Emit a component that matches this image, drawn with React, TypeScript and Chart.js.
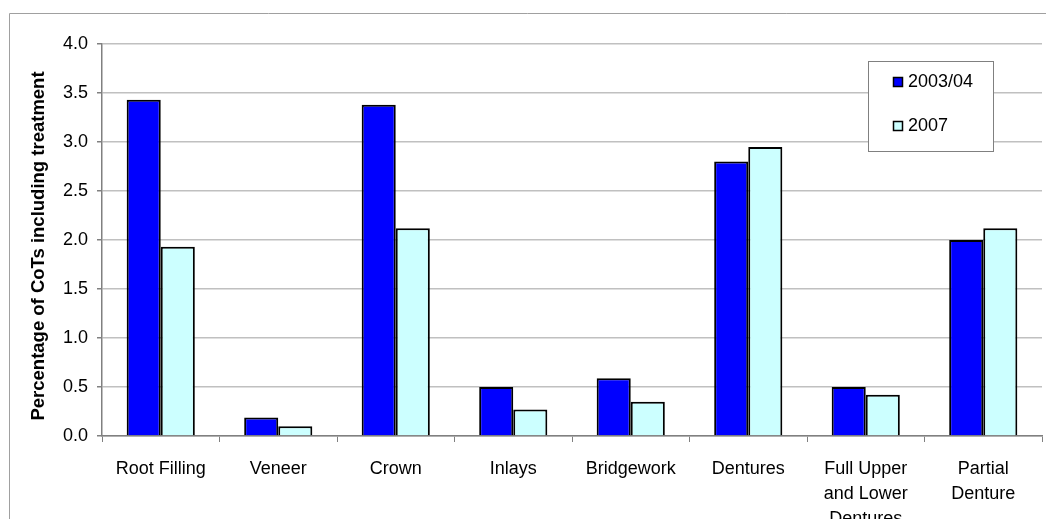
import React, { useEffect, useRef } from "react";
import { Chart, registerables } from "chart.js";

Chart.register(...registerables);

const categories: (string | string[])[] = [
  "Root Filling",
  "Veneer",
  "Crown",
  "Inlays",
  "Bridgework",
  "Dentures",
  ["Full Upper", "and Lower", "Dentures"],
  ["Partial", "Denture"],
];
const seriesNames = ["2003/04", "2007"];
const values2003 = [3.43, 0.19, 3.38, 0.5, 0.59, 2.8, 0.5, 2.0];
const values2007 = [1.93, 0.1, 2.12, 0.27, 0.35, 2.95, 0.42, 2.12];
const seriesColors = ["#0000ff", "#ccffff"];
const yTicks = [0, 0.5, 1, 1.5, 2, 2.5, 3, 3.5, 4];
const yTitle = "Percentage of CoTs including treatment";

const FONT = "'Liberation Sans', Arial, sans-serif";

const framePlugin = {
  id: "frameAndLegend",
  afterDraw(chart: any) {
    const ctx = chart.ctx;
    ctx.save();
    // outer frame
    ctx.strokeStyle = "#a0a0a0";
    ctx.lineWidth = 1;
    ctx.beginPath();
    ctx.moveTo(9.5, chart.height);
    ctx.lineTo(9.5, 13.5);
    ctx.lineTo(chart.width, 13.5);
    ctx.stroke();
    // y title
    ctx.save();
    ctx.translate(39, 246);
    ctx.rotate(-Math.PI / 2);
    ctx.fillStyle = "#000000";
    ctx.font = `bold 18.5px ${FONT}`;
    ctx.textAlign = "center";
    ctx.textBaseline = "middle";
    ctx.fillText(yTitle, 0, 0);
    ctx.restore();
    // legend box
    const bx = 868.5, by = 61.5, bw = 125, bh = 90;
    ctx.fillStyle = "#ffffff";
    ctx.fillRect(bx, by, bw, bh);
    ctx.strokeStyle = "#808080";
    ctx.lineWidth = 1;
    ctx.strokeRect(bx, by, bw, bh);
    const rows = [82, 126];
    chart.data.datasets.forEach((ds: any, i: number) => {
      const cy = rows[i];
      ctx.fillStyle = ds.backgroundColor;
      ctx.fillRect(893, cy - 5, 10, 10);
      ctx.strokeStyle = "#000000";
      ctx.lineWidth = 1.5;
      ctx.strokeRect(893.5, cy - 4.5, 9, 9);
      ctx.fillStyle = "#000000";
      ctx.font = `18px ${FONT}`;
      ctx.textBaseline = "middle";
      ctx.textAlign = "left";
      ctx.fillText(ds.label, 908, cy);
    });
    ctx.restore();
  },
};

export default function App() {
  const ref = useRef<HTMLCanvasElement | null>(null);
  useEffect(() => {
    document.body.style.margin = "0";
    const canvas = ref.current;
    if (!canvas) return;
    const chart = new Chart(canvas, {
      type: "bar",
      data: {
        labels: categories,
        datasets: [
          {
            label: seriesNames[0],
            data: values2003,
            backgroundColor: seriesColors[0],
            borderColor: "#000000",
            borderWidth: 2,
            categoryPercentage: 0.58,
            barPercentage: 1.0,
          },
          {
            label: seriesNames[1],
            data: values2007,
            backgroundColor: seriesColors[1],
            borderColor: "#000000",
            borderWidth: 2,
            categoryPercentage: 0.58,
            barPercentage: 1.0,
          },
        ],
      },
      options: {
        responsive: false,
        animation: false,
        layout: { padding: { top: 44, right: 4, left: 0, bottom: 0 } },
        plugins: {
          legend: { display: false },
          tooltip: { enabled: false },
        },
        scales: {
          x: {
            grid: {
              drawOnChartArea: false,
              drawTicks: true,
              tickLength: 6,
              color: "#808080",
              offset: true,
            },
            border: { color: "#808080", width: 1.5 },
            ticks: {
              color: "#000000",
              padding: 14,
              maxRotation: 0,
              autoSkip: false,
              font: { family: FONT, size: 18, lineHeight: 1.4 },
            },
            afterFit(scale: any) {
              scale.height = 83;
            },
          },
          y: {
            min: 0,
            max: 4,
            afterBuildTicks(scale: any) {
              scale.ticks = yTicks.map((v) => ({ value: v }));
            },
            grid: {
              color: "#c0c0c0",
              tickColor: "#808080",
              tickLength: 5,
              lineWidth: 1.5,
            },
            border: { color: "#808080", width: 1.5 },
            ticks: {
              color: "#000000",
              padding: 9,
              font: { family: FONT, size: 18 },
              callback: (v: any) => Number(v).toFixed(1),
            },
            title: { display: false },
            afterFit(scale: any) {
              scale.width = 102;
            },
          },
        },
      },
      plugins: [framePlugin],
    });
    return () => chart.destroy();
  }, []);
  return (
    <div style={{ width: 1046, height: 519, position: "relative", background: "#fff" }}>
      <canvas ref={ref} width={1046} height={519} style={{ display: "block" }} />
    </div>
  );
}
